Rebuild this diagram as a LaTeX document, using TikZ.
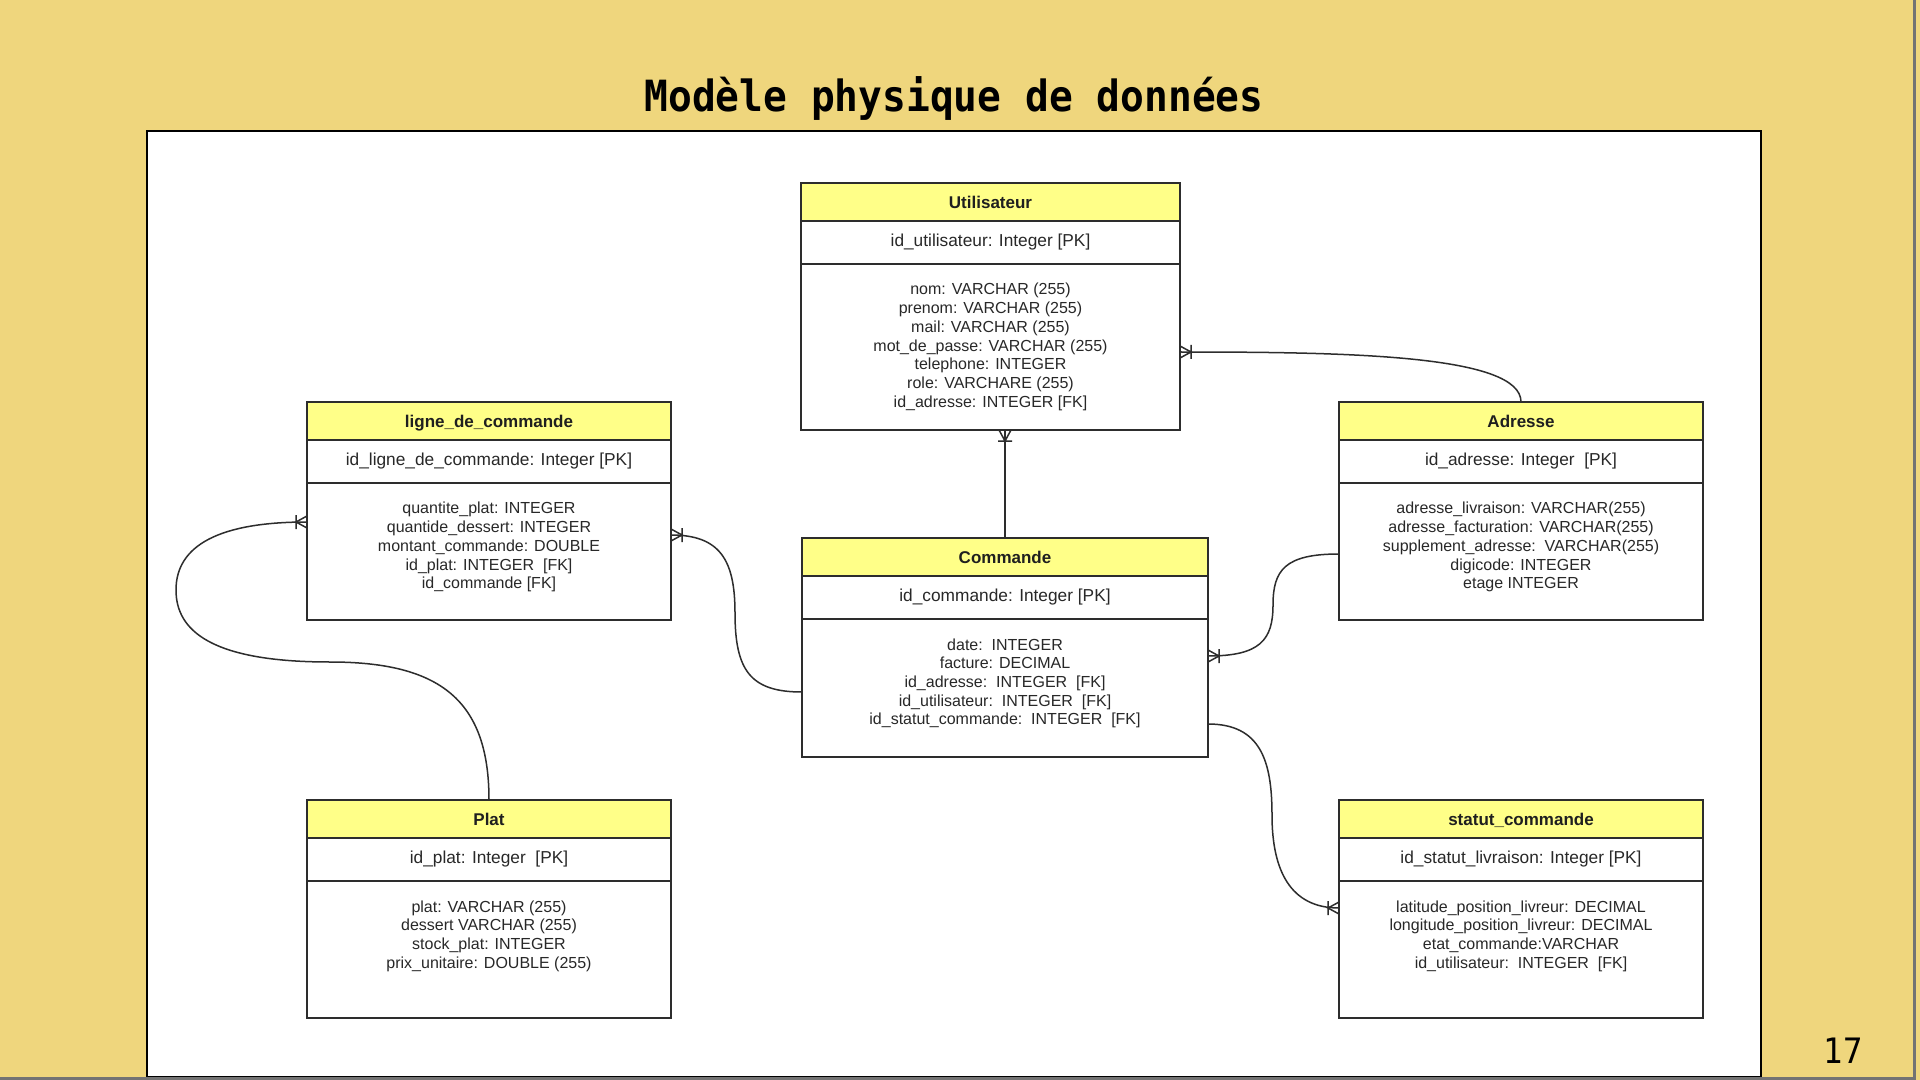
\documentclass[tikz,border=0pt]{standalone}
\usepackage{fontspec}
\setmainfont{Liberation Sans}
\newfontfamily\monofont{DejaVu Sans Mono}[FakeStretch=0.92]
\usetikzlibrary{calc}
\definecolor{slidebg}{RGB}{239,214,125}
\definecolor{hdr}{RGB}{255,255,136}
\definecolor{edge}{RGB}{45,45,45}
\definecolor{txt}{RGB}{40,40,40}
\tikzset{
  frame/.style={draw=edge, line width=0.9pt, inner sep=0pt, outer sep=0pt, fill=none},
  sepline/.style={draw=edge, line width=0.9pt},
  hdrtext/.style={font=\fontsize{8.5pt}{10pt}\selectfont\bfseries, text=black!88, inner sep=0pt, text height=6.1pt, text depth=0pt},
  pktext/.style={font=\fontsize{8.65pt}{10pt}\selectfont, text=txt, inner sep=0pt, text height=6.2pt, text depth=0pt},
  attrtext/.style={font=\fontsize{8pt}{9.35pt}\selectfont, text=txt, inner sep=0pt, align=center, anchor=north},
  conn/.style={draw=edge, line width=0.75pt},
}
% #1 name, #2 x1, #3 y1, #4 x2, #5 y2, #6 title, #7 pk, #8 attributes
\newcommand\entity[8]{%
  \fill[hdr] (#2,#3) rectangle (#4,#3+38);
  \node[frame, minimum width={(#4-#2)*0.5pt}, minimum height={(#5-#3)*0.5pt}] (#1) at ({(#2+#4)/2},{(#3+#5)/2}) {};
  \draw[sepline] (#2,#3+38) -- (#4,#3+38) (#2,#3+81) -- (#4,#3+81);
  \node[hdrtext] (#1-t) at ({(#2+#4)/2},#3+19) {#6};
  \node[pktext] (#1-pk) at ({(#2+#4)/2},#3+57) {#7};
  \node[attrtext] (#1-at) at ({(#2+#4)/2},#3+100) {#8};
}
\newcommand\crowfoot[2]{%
  \begin{scope}[shift={(#1)},rotate=#2]
    \draw[conn] (0,-6) -- (11,0) -- (0,6) (11,-7) -- (11,7);
  \end{scope}
}
\begin{document}
\begin{tikzpicture}[x=0.5pt,y=-0.5pt]
\useasboundingbox (0,0) rectangle (1920,1080);
\fill[slidebg] (0,0) rectangle (1920,1080);
\draw[line width=1pt, fill=white] (147,131) rectangle (1761,1077);
\draw[line width=1.5pt, black!55] (1914,0) -- (1914,1078) -- (0,1078);

\node[font=\monofont\bfseries\fontsize{21.5pt}{26pt}\selectfont, anchor=base] (title) at (954,112) {Modèle physique de données};
\node[font=\monofont\fontsize{17.5pt}{20pt}\selectfont, anchor=base] (pnum) at (1843,1063) {17};

\entity{util}{801}{183}{1180}{430}{Utilisateur}{id\_utilisateur: Integer [PK]}{nom: VARCHAR (255)\\prenom: VARCHAR (255)\\mail: VARCHAR (255)\\mot\_de\_passe: VARCHAR (255)\\telephone: INTEGER\\role: VARCHARE (255)\\id\_adresse: INTEGER [FK]}
\entity{ligne}{307}{402}{671}{620}{ligne\_de\_commande}{id\_ligne\_de\_commande: Integer [PK]}{quantite\_plat: INTEGER\\quantide\_dessert: INTEGER\\montant\_commande: DOUBLE\\id\_plat: INTEGER\ \ [FK]\\id\_commande [FK]}
\entity{adr}{1339}{402}{1703}{620}{Adresse}{id\_adresse: Integer\ \ [PK]}{adresse\_livraison: VARCHAR(255)\\adresse\_facturation: VARCHAR(255)\\supplement\_adresse:\ \ VARCHAR(255)\\digicode: INTEGER\\etage INTEGER}
\entity{comm}{802}{538}{1208}{757}{Commande}{id\_commande: Integer [PK]}{date:\ \ INTEGER\\facture: DECIMAL\\id\_adresse:\ \ INTEGER\ \ [FK]\\id\_utilisateur:\ \ INTEGER\ \ [FK]\\id\_statut\_commande:\ \ INTEGER\ \ [FK]}
\entity{plat}{307}{800}{671}{1018}{Plat}{id\_plat: Integer\ \ [PK]}{plat: VARCHAR (255)\\dessert VARCHAR (255)\\stock\_plat: INTEGER\\prix\_unitaire: DOUBLE (255)}
\entity{stat}{1339}{800}{1703}{1018}{statut\_commande}{id\_statut\_livraison: Integer [PK]}{latitude\_position\_livreur: DECIMAL\\longitude\_position\_livreur: DECIMAL\\etat\_commande:VARCHAR\\id\_utilisateur:\ \ INTEGER\ \ [FK]}

% Utilisateur -- Commande
\coordinate (cu) at (comm.north |- util.south);
\draw[conn] (comm.north) -- (cu);
\crowfoot{cu}{-90}
% Adresse -- Utilisateur
\coordinate (ua) at (util.east |- 0,352);
\draw[conn] (adr.north) .. controls (1521,355) and (1350,352) .. (ua);
\crowfoot{ua}{0}
% Adresse -- Commande
\coordinate (ac) at (adr.west |- 0,554);
\coordinate (ca) at (comm.east |- 0,656);
\draw[conn] (ac) .. controls (1285,554) and (1273,570) .. (1273,605) .. controls (1273,640) and (1260,656) .. (ca);
\crowfoot{ca}{0}
% Commande -- statut_commande
\coordinate (cs) at (comm.east |- 0,724);
\coordinate (sc) at (stat.west |- 0,908);
\draw[conn] (cs) .. controls (1260,724) and (1272,760) .. (1272,815) .. controls (1272,870) and (1290,908) .. (sc);
\crowfoot{sc}{180}
% Commande -- ligne_de_commande
\coordinate (cl) at (comm.west |- 0,692);
\coordinate (lc) at (ligne.east |- 0,535);
\draw[conn] (cl) .. controls (750,692) and (735,670) .. (735,613) .. controls (735,560) and (720,535) .. (lc);
\crowfoot{lc}{0}
% Plat -- ligne_de_commande
\coordinate (ll) at (ligne.west |- 0,522);
\draw[conn] (plat.north) .. controls (489,700) and (440,662) .. (330,662) .. controls (210,662) and (176,630) .. (176,590) .. controls (176,545) and (220,522) .. (ll);
\crowfoot{ll}{180}
\end{tikzpicture}
\end{document}
